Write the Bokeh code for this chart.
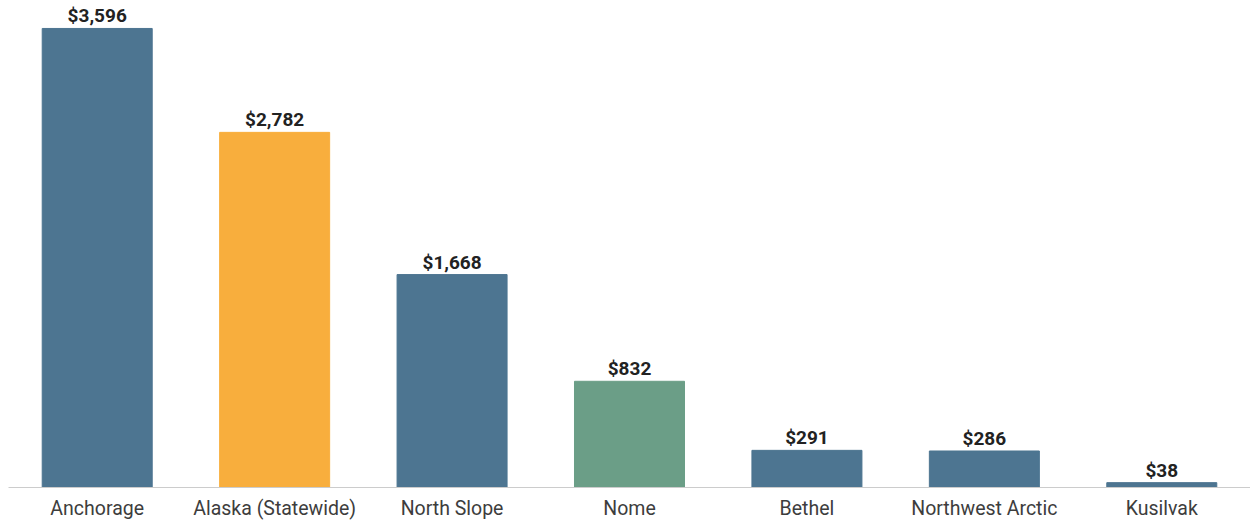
from bokeh.plotting import figure
from bokeh.models import FactorRange, ColumnDataSource, Range1d
from bokeh.core.properties import value
from bokeh.embed import file_html
from bokeh.resources import INLINE

categories = ["Anchorage", "Alaska (Statewide)", "North Slope", "Nome", "Bethel", "Northwest Arctic", "Kusilvak"]
values = [3596, 2782, 1668, 832, 291, 286, 38]
labels = ["$3,596", "$2,782", "$1,668", "$832", "$291", "$286", "$38"]
colors = ["#4d7591", "#f8ae3d", "#4d7591", "#6b9e87", "#4d7591", "#4d7591", "#4d7591"]

src = ColumnDataSource(dict(cat=categories, val=values, lab=labels, col=colors))

p = figure(width=1250, height=522, x_range=FactorRange(*categories, range_padding=0),
           y_range=Range1d(0, 3815), output_backend="svg", toolbar_location=None,
           min_border_left=8, min_border_right=0, min_border_top=0, min_border_bottom=34)
p.outline_line_color = None
p.grid.visible = False
p.yaxis.visible = False

p.vbar(x="cat", top="val", width=0.62, color="col", source=src)
p.text(x="cat", y="val", text="lab", source=src, text_align="center", text_baseline="bottom",
       y_offset=-1, text_font=value("Roboto"), text_font_style="bold", text_font_size="19px",
       text_color="#222222")

ax = p.xaxis[0]
ax.axis_line_color = "#cccccc"
ax.axis_line_width = 1
ax.major_tick_line_color = None
ax.minor_tick_line_color = None
ax.major_tick_out = 0
ax.major_label_standoff = 9
ax.major_label_text_font = "Roboto"
ax.major_label_text_font_size = "19.5px"
ax.major_label_text_color = "#3d3d3d"

open("out.html", "w").write(file_html(p, INLINE))
